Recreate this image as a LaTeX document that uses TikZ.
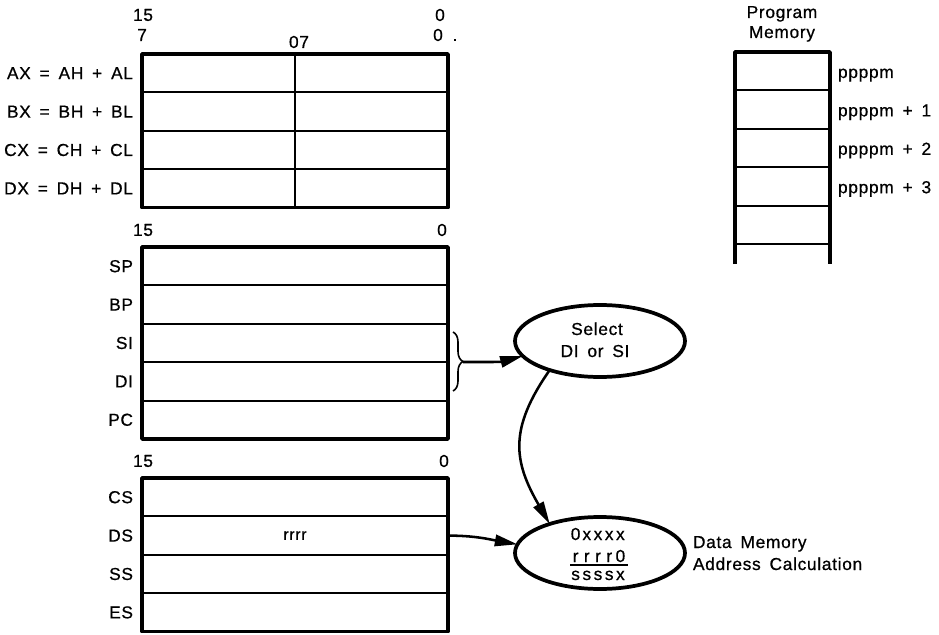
\documentclass[tikz,border=0pt]{standalone}
\usepackage{fontspec}
\setmainfont[LetterSpace=4,WordSpace=1.6,FakeBold=0.7]{Liberation Sans}
\usetikzlibrary{shapes.geometric,arrows.meta,decorations.pathreplacing}
\newcommand\chb[1]{\makebox[8.4pt]{#1}}
\begin{document}
\begin{tikzpicture}[x=0.75pt,y=-0.75pt,
  txt/.style={font=\fontsize{13}{15}\selectfont, inner sep=0pt, outer sep=0pt},
  regrow/.style={draw, line width=1.5pt, minimum width=229.5pt, minimum height=28.8pt,
    inner sep=0pt, outer sep=0pt, anchor=north west, font=\fontsize{12}{14}\selectfont},
  frame/.style={line width=2.8pt, line join=round},
  oval/.style={ellipse, draw, line width=2.8pt, minimum width=127.5pt, minimum height=54pt,
    inner sep=0pt, outer sep=0pt},
  conn/.style={line width=1.9pt, -{Triangle[length=17pt,width=8.5pt]}},
  pmrow/.style={line width=1.6pt},
  bracestyle/.style={line width=1.2pt, decorate, decoration={brace, amplitude=7.5pt}}
]
\useasboundingbox (0,0) rectangle (939,635);

% ---------- block 1: AX..DX ----------
\node[txt] (b1h15) at (143,15) {15};
\node[txt] (b1h0) at (440,15) {0};
\node[txt] (b1l7) at (142,35) {7};
\node[txt] (b1l07) at (299,42) {07};
\node[txt] (b1l0) at (438,35) {0};
\node[txt] (b1dot) at (455,40) {.};
\node[regrow] (rax) at (142,54) {};
\node[regrow] (rbx) at (142,92.4) {};
\node[regrow] (rcx) at (142,130.8) {};
\node[regrow] (rdx) at (142,169.2) {};
\draw[line width=1.7pt] (rax.north) -- (rdx.south);
\draw[frame] (rax.north west) rectangle (rdx.south east);
\node[txt, anchor=east] (lax) at (133,73.2) {AX = AH + AL};
\node[txt, anchor=east] (lbx) at (133,111.6) {BX = BH + BL};
\node[txt, anchor=east] (lcx) at (133,150) {CX = CH + CL};
\node[txt, anchor=east] (ldx) at (133,188.4) {DX = DH + DL};

% ---------- block 2: SP..PC ----------
\node[txt] (b2h15) at (143,230) {15};
\node[txt] (b2h0) at (442,230) {0};
\node[regrow] (rsp) at (142,247) {};
\node[regrow] (rbp) at (142,285.4) {};
\node[regrow] (rsi) at (142,323.8) {};
\node[regrow] (rdi) at (142,362.2) {};
\node[regrow] (rpc) at (142,400.6) {};
\draw[frame] (rsp.north west) rectangle (rpc.south east);
\node[txt, anchor=east] (lsp) at (133,266.2) {SP};
\node[txt, anchor=east] (lbp) at (133,304.6) {BP};
\node[txt, anchor=east] (lsi) at (133,343) {SI};
\node[txt, anchor=east] (ldi) at (133,381.4) {DI};
\node[txt, anchor=east] (lpc) at (133,419.8) {PC};

% ---------- block 3: CS..ES ----------
\node[txt] (b3h15) at (143,461) {15};
\node[txt] (b3h0) at (444,461) {0};
\node[regrow] (rcs) at (142,478) {};
\node[regrow] (rds) at (142,516.4) {rrrr};
\node[regrow] (rss) at (142,554.8) {};
\node[regrow] (res) at (142,593.2) {};
\draw[frame] (rcs.north west) rectangle (res.south east);
\node[txt, anchor=east] (lcs) at (133,497.2) {CS};
\node[txt, anchor=east] (lds) at (133,535.6) {DS};
\node[txt, anchor=east] (lss) at (133,574) {SS};
\node[txt, anchor=east] (les) at (133,612.4) {ES};

% ---------- program memory ----------
\node[txt, anchor=base] (pmt1) at (782,18) {Program};
\node[txt, anchor=base] (pmt2) at (782,38) {Memory};
\foreach \yy in {90.4,128.8,167.2,205.6,244} \draw[pmrow] (735,\yy) -- (830,\yy);
\draw[frame] (735,264) -- (735,52) -- (830,52) -- (830,264);
\node[txt, anchor=base west] (pm0) at (838,78) {ppppm};
\node[txt, anchor=base west] (pm1) at (838,116.4) {ppppm + 1};
\node[txt, anchor=base west] (pm2) at (838,154.8) {ppppm + 2};
\node[txt, anchor=base west] (pm3) at (838,193.2) {ppppm + 3};

% ---------- select ellipse ----------
\node[oval] (e1) at (600,341) {};
\node[txt, anchor=base] (e1a) at (597,335) {Select};
\node[txt, anchor=base] (e1b) at (595,357) {DI or SI};

% ---------- address ellipse ----------
\node[oval] (e2) at (600,553) {};
\node[txt, anchor=base] (e2a) at (598,540) {\chb{0}\chb{x}\chb{x}\chb{x}\chb{x}};
\node[txt, anchor=base] (e2b) at (598,562) {\chb{r}\chb{r}\chb{r}\chb{r}\chb{0}};
\node[txt, anchor=base] (e2c) at (598,580) {\chb{s}\chb{s}\chb{s}\chb{s}\chb{x}};
\draw[line width=1.3pt] (570,565) -- (628,565);
\node[txt, anchor=base west] (dm1) at (693,548) {Data Memory};
\node[txt, anchor=base west] (dm2) at (693,570) {Address Calculation};

% ---------- brace and connectors ----------
\draw[bracestyle] (453,332) -- (453,391);
\coordinate (bt) at (463,362);
\draw[conn] (bt) to[out=0,in=195] (e1.191);
\draw[conn] (e1.210) to[out=235,in=120,looseness=1.2] (e2.150);
\draw[conn] (rds.east) to[out=0,in=170] (e2.174);
\end{tikzpicture}
\end{document}
